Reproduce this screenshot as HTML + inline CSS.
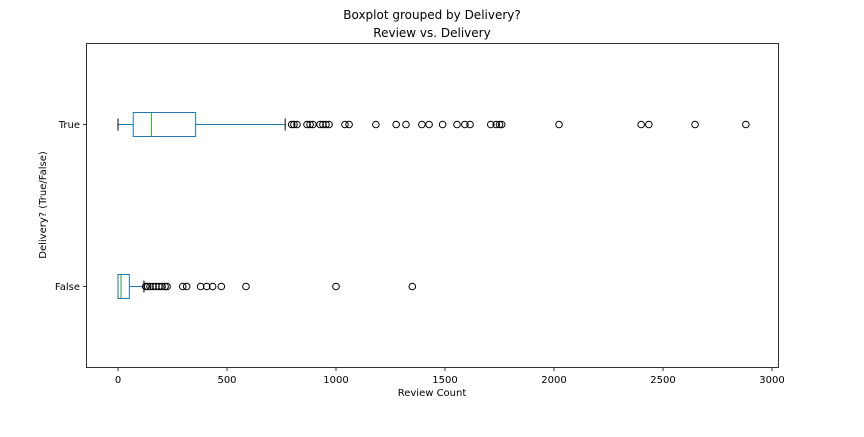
<!DOCTYPE html>
<html><head><meta charset="utf-8"><style>
body{margin:0;background:#fff;}
text{font-family:"DejaVu Sans","Liberation Sans",sans-serif;fill:#000;}
</style></head><body>
<svg id="chart" width="864" height="432">
<text x="432" y="19" font-size="12" text-anchor="middle">Boxplot grouped by Delivery?</text>
<text x="432" y="37" font-size="12" text-anchor="middle">Review vs. Delivery</text>
<rect x="86.5" y="43.5" width="692" height="324" fill="none" stroke="#000" stroke-width="0.8"/>
<text x="432" y="396" font-size="10" text-anchor="middle">Review Count</text>
<text transform="translate(46,205) rotate(-90)" font-size="10" text-anchor="middle">Delivery? (True/False)</text>
<g id="marks"></g>
</svg>
<script>
const categories = ["True", "False"];
const xTicks = [0, 500, 1000, 1500, 2000, 2500, 3000];
const whiskerLow = [0, 0];
const q1 = [70, 0];
const median = [153, 14];
const q3 = [356, 52];
const whiskerHigh = [767, 119];
const outliersTrue = [797,807,821,867,881,894,927,940,954,968,1041,1060,1183,1276,1321,1394,1427,1489,1555,1591,1615,1710,1735,1750,1760,2023,2400,2435,2647,2880];
const outliersFalse = [127,136,147,161,174,188,202,216,225,297,315,379,407,434,474,587,1000,1350];
const outliers = [outliersTrue, outliersFalse];

const NS = "http://www.w3.org/2000/svg";
const svg = document.getElementById("chart");
const g = document.getElementById("marks");
const x = v => 118 + v * 0.218;
const yCat = i => [124.5, 286.5][i];
function mk(tag, attrs, parent) {
  const e = document.createElementNS(NS, tag);
  for (const k in attrs) e.setAttribute(k, attrs[k]);
  (parent || g).appendChild(e);
  return e;
}
xTicks.forEach(t => {
  const px = x(t);
  const l = mk("line", {x1: px, x2: px, y1: 367.5, y2: 371, stroke: "#000", "stroke-width": 0.8}, svg);
  
  
  const tx = mk("text", {x: px, y: 383, "font-size": 10, "text-anchor": "middle"}, svg);
  tx.textContent = t;
  
  
});
categories.forEach((c, i) => {
  const y = yCat(i);
  const l = mk("line", {x1: 83, x2: 86.5, y1: y, y2: y, stroke: "#000", "stroke-width": 0.8}, svg);
  
  
  const tx = mk("text", {x: 80, y: y + 3.5, "font-size": 10, "text-anchor": "end"}, svg);
  tx.textContent = c;
  
  
  const h = 12, cap = 6, col = "#1f77b4";
  const w1 = mk("line", {x1: x(whiskerLow[i]), x2: x(q1[i]), y1: y, y2: y, stroke: col});
  
  
  const w2 = mk("line", {x1: x(q3[i]), x2: x(whiskerHigh[i]), y1: y, y2: y, stroke: col});
  
  
  const c1 = mk("line", {x1: x(whiskerLow[i]), x2: x(whiskerLow[i]), y1: y - cap, y2: y + cap, stroke: "#000"});
  
  
  const c2 = mk("line", {x1: x(whiskerHigh[i]), x2: x(whiskerHigh[i]), y1: y - cap, y2: y + cap, stroke: "#000"});
  
  
  const b = mk("rect", {x: x(q1[i]), y: y - h, width: x(q3[i]) - x(q1[i]), height: 2 * h, fill: "none", stroke: col});
  
  
  const m = mk("line", {x1: x(median[i]), x2: x(median[i]), y1: y - h, y2: y + h, stroke: "#2ca02c"});
  
  
  outliers[i].forEach(v => {
    const o = mk("circle", {cx: x(v), cy: y, r: 3.3, fill: "none", stroke: "#000", "stroke-width": 1});
    
    
  });
});
</script>
</body></html>
